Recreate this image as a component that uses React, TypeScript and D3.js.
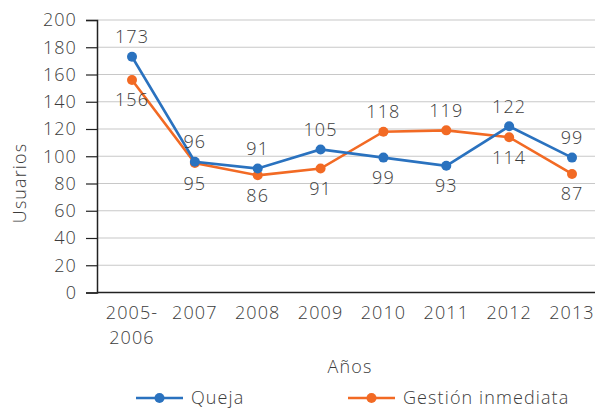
import React, { useEffect, useRef } from 'react';
import * as d3 from 'd3';

const years = ['2005-2006', '2007', '2008', '2009', '2010', '2011', '2012', '2013'];
const queja = [173, 96, 91, 105, 99, 93, 122, 99];
const gestion = [156, 95, 86, 91, 118, 119, 114, 87];
// which side each value label sits on (-1 above, 1 below)
const quejaSide = [-1, -1, -1, -1, 1, 1, -1, -1];
const gestionSide = [1, 1, 1, 1, -1, -1, 1, 1];
const yTicks = [0, 20, 40, 60, 80, 100, 120, 140, 160, 180, 200];

const BLUE = '#2a72bf';
const ORANGE = '#f26a24';
const TEXT = '#3c3c3c';
const FONT = '"Open Sans", "Noto Sans", sans-serif';
const LS = '1.1px';

export default function App() {
  const svgRef = useRef<SVGSVGElement>(null);

  useEffect(() => {
    if (!svgRef.current) return;
    const svg = d3.select(svgRef.current);
    svg.selectAll('*').remove();

    const width = 595;
    const left = 97;
    const top = 20;
    const bottom = 292.5;

    const x = d3.scalePoint<string>().domain(years).range([132, 572]);
    const y = d3.scaleLinear().domain([0, 200]).range([bottom, top]);

    const g = svg.append('g')
      .style('font-family', FONT)
      .style('font-weight', 300)
      .style('letter-spacing', LS);

    // grid
    g.selectAll('line.grid')
      .data(yTicks.filter(t => t > 0))
      .enter()
      .append('line')
      .attr('x1', left)
      .attr('x2', width)
      .attr('y1', d => y(d))
      .attr('y2', d => y(d))
      .attr('stroke', '#c8c8c8')
      .attr('stroke-width', 1.2);

    // y axis
    const yAxis = g.append('g')
      .attr('transform', `translate(${left},0)`)
      .call(d3.axisLeft(y).tickValues(yTicks).tickSize(11).tickPadding(9));
    yAxis.select('.domain').attr('stroke', '#222').attr('stroke-width', 1.5);
    yAxis.selectAll('.tick line').attr('stroke', '#222').attr('stroke-width', 1.2);
    yAxis.selectAll('.tick text')
      .attr('fill', TEXT)
      .style('font-size', '18px')
      .style('font-family', FONT)
      .style('font-weight', 300)
      .style('letter-spacing', LS);

    // x axis line
    g.append('line')
      .attr('x1', left)
      .attr('x2', width)
      .attr('y1', bottom)
      .attr('y2', bottom)
      .attr('stroke', '#222')
      .attr('stroke-width', 1.5);

    // x labels
    years.forEach(yr => {
      const parts = yr.includes('-') ? [yr.split('-')[0] + '-', yr.split('-')[1]] : [yr];
      const t = g.append('text')
        .attr('x', x(yr)!)
        .attr('y', 319)
        .attr('text-anchor', 'middle')
        .attr('fill', TEXT)
        .style('font-size', '18px');
      parts.forEach((p, i) => {
        t.append('tspan').attr('x', x(yr)!).attr('dy', i === 0 ? 0 : 25).text(p);
      });
    });

    // axis titles
    g.append('text')
      .attr('x', 350)
      .attr('y', 373)
      .attr('text-anchor', 'middle')
      .attr('fill', TEXT)
      .style('font-size', '18px')
      .text('Años');
    g.append('text')
      .attr('transform', `translate(26,183) rotate(-90)`)
      .attr('text-anchor', 'middle')
      .attr('fill', TEXT)
      .style('font-size', '18px')
      .text('Usuarios');

    const line = d3.line<number>()
      .x((_, i) => x(years[i])!)
      .y(d => y(d));

    const drawSeries = (vals: number[], sides: number[], color: string) => {
      g.append('path')
        .datum(vals)
        .attr('d', line)
        .attr('fill', 'none')
        .attr('stroke', color)
        .attr('stroke-width', 2.6);
      g.selectAll(null)
        .data(vals)
        .enter()
        .append('circle')
        .attr('cx', (_, i) => x(years[i])!)
        .attr('cy', d => y(d))
        .attr('r', 5)
        .attr('fill', color);
      g.selectAll(null)
        .data(vals)
        .enter()
        .append('text')
        .attr('x', (_, i) => x(years[i])!)
        .attr('y', (d, i) => y(d) + sides[i] * 20)
        .attr('dy', '0.36em')
        .attr('text-anchor', 'middle')
        .attr('fill', TEXT)
        .style('font-size', '18px')
        .text(d => d);
    };

    drawSeries(gestion, gestionSide, ORANGE);
    drawSeries(queja, quejaSide, BLUE);

    // legend
    const legend = [
      { name: 'Queja', color: BLUE, x: 136 },
      { name: 'Gestión inmediata', color: ORANGE, x: 348 },
    ];
    legend.forEach(l => {
      const ly = 398;
      g.append('line')
        .attr('x1', l.x)
        .attr('x2', l.x + 47)
        .attr('y1', ly)
        .attr('y2', ly)
        .attr('stroke', l.color)
        .attr('stroke-width', 2.6);
      g.append('circle').attr('cx', l.x + 23.5).attr('cy', ly).attr('r', 5).attr('fill', l.color);
      g.append('text')
        .attr('x', l.x + 55)
        .attr('y', ly)
        .attr('dy', '0.36em')
        .attr('fill', TEXT)
        .style('font-size', '18px')
        .text(l.name);
    });
  }, []);

  return (
    <svg
      ref={svgRef}
      width={595}
      height={409}
      style={{ position: 'absolute', left: 0, top: 0, background: '#fff' }}
    />
  );
}
